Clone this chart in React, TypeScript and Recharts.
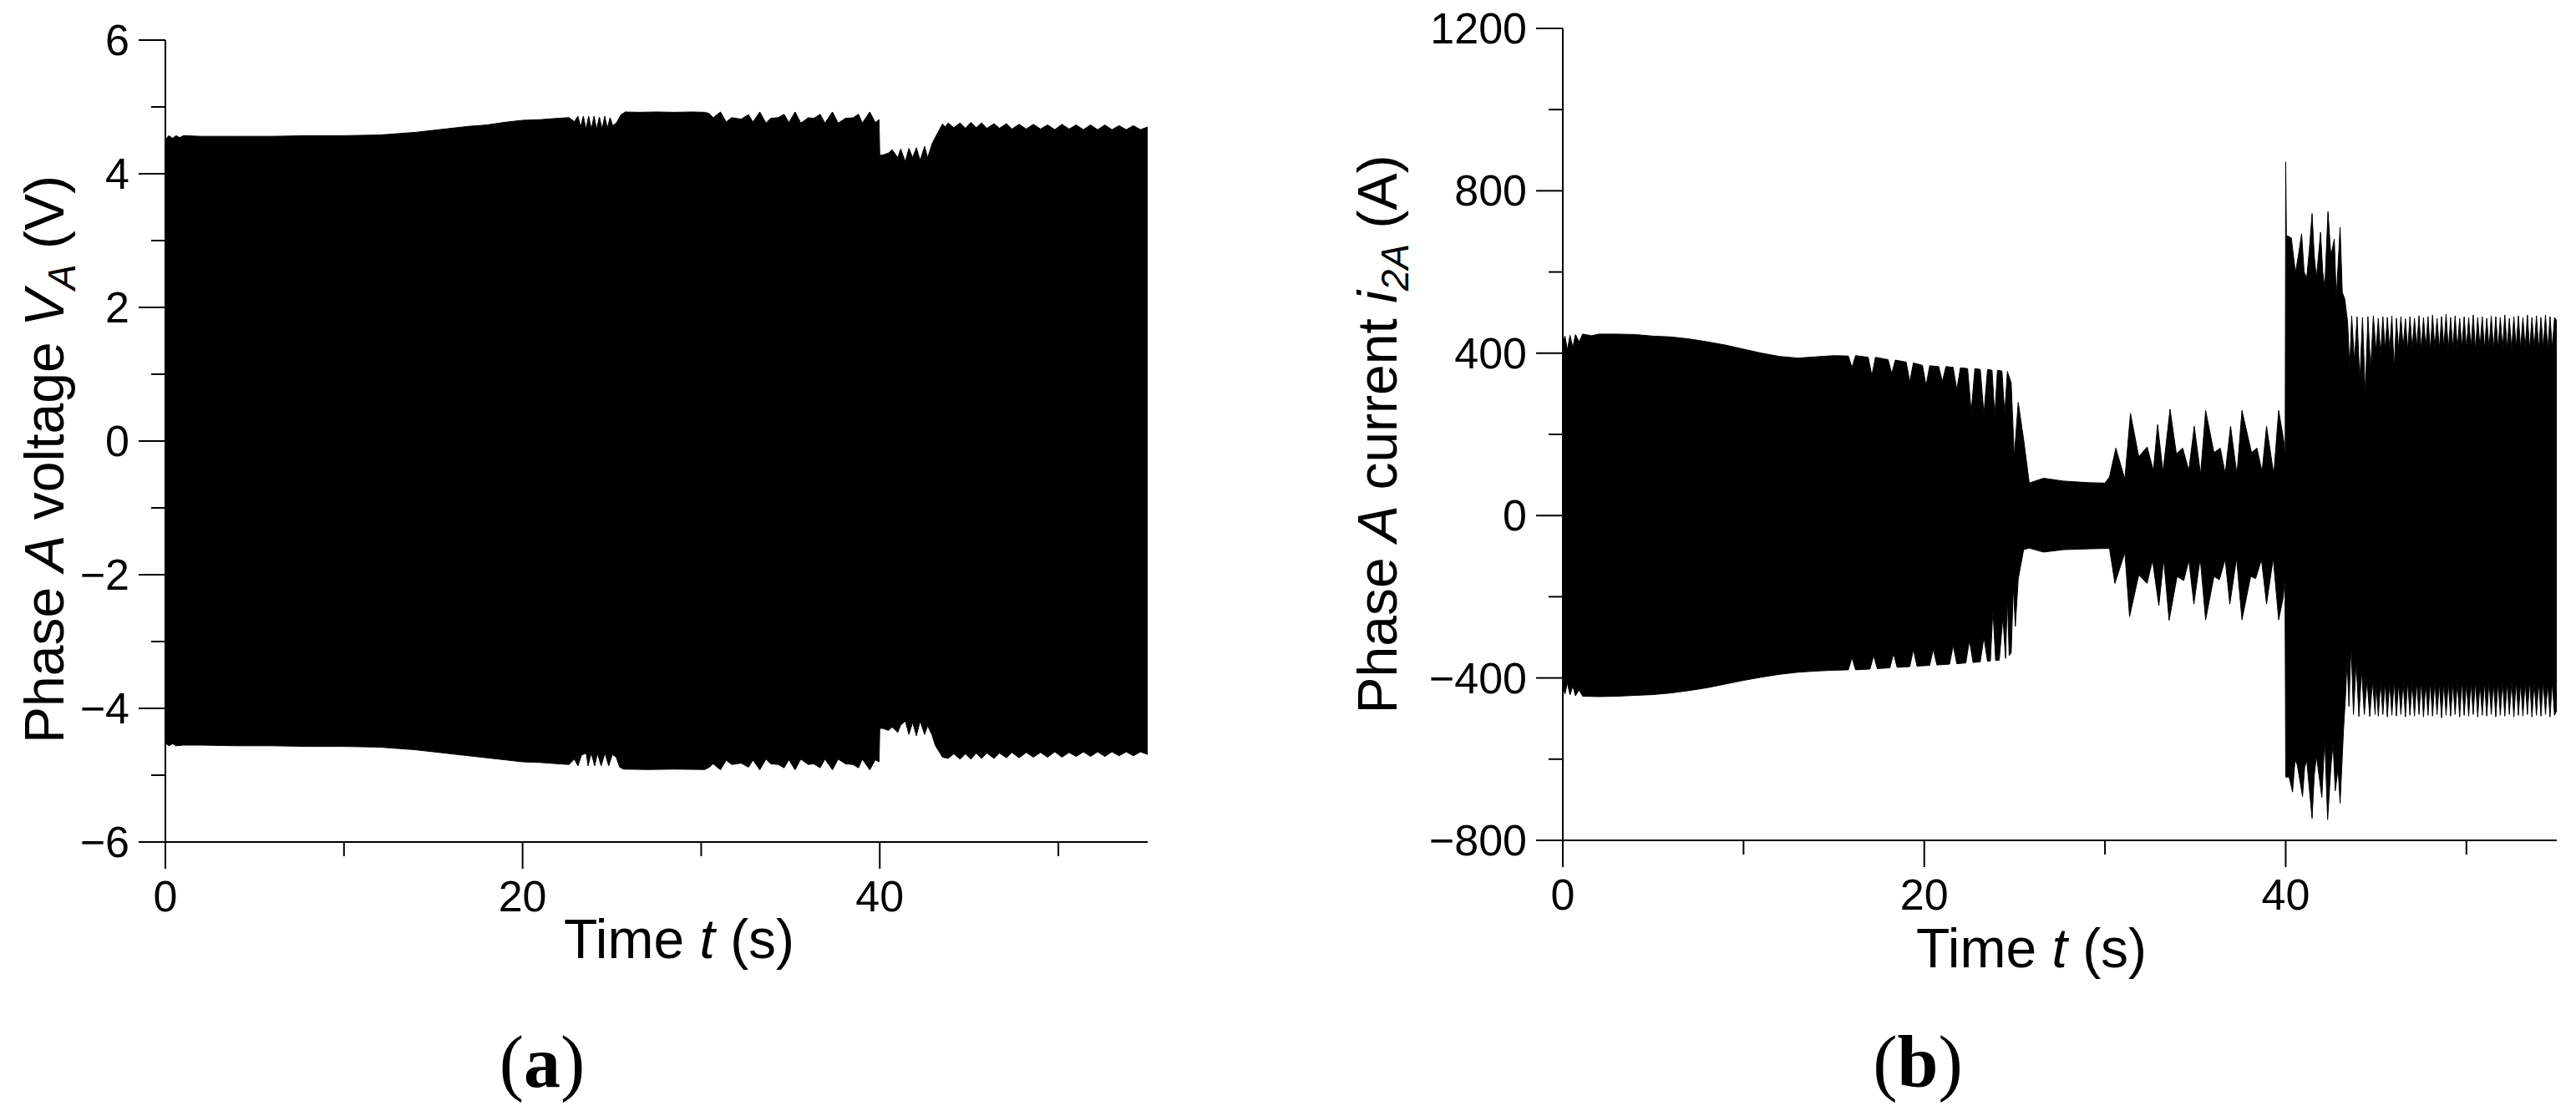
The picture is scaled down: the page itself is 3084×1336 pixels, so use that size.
import { Area, ComposedChart, XAxis, YAxis } from "recharts";

const SANS = "'Liberation Sans', Arial, Helvetica, sans-serif";
const SERIF = "'Liberation Serif', 'Times New Roman', serif";

const timeTicks = [0, 10, 20, 30, 40, 50];
const timeLabels = [0, 20, 40];
const voltageTicks = [-6, -5, -4, -3, -2, -1, 0, 1, 2, 3, 4, 5, 6];
const voltageLabels = [-6, -4, -2, 0, 2, 4, 6];
const currentTicks = [-800, -600, -400, -200, 0, 200, 400, 600, 800, 1000, 1200];
const currentLabels = [-800, -400, 0, 400, 800, 1200];

type Pair = [number, number];

// (a) phase A voltage, upper envelope [t (s), V]
const voltageUpper: Pair[] = [
  [0, 4.52], [0.2, 4.57], [0.4, 4.53], [0.6, 4.57], [0.8, 4.54], [1.0, 4.57], [2, 4.56], [4, 4.56],
  [6, 4.56], [8, 4.57], [10, 4.57], [12, 4.58], [13, 4.6], [14, 4.62], [15, 4.65], [16, 4.68],
  [17, 4.71], [18, 4.73], [19, 4.77], [20, 4.8], [21, 4.81], [22, 4.83], [22.6, 4.84], [22.9, 4.78],
  [23.1, 4.86], [23.25, 4.7], [23.4, 4.86], [23.55, 4.67], [23.7, 4.86], [23.85, 4.67], [24.0, 4.86],
  [24.15, 4.67], [24.3, 4.85], [24.45, 4.67], [24.6, 4.86], [24.75, 4.68], [24.9, 4.84], [25.05, 4.72],
  [25.25, 4.76], [25.5, 4.88], [25.75, 4.925], [26.5, 4.92], [27.5, 4.925], [28.5, 4.92], [29.5, 4.925],
  [30.2, 4.92], [30.46, 4.9], [30.67, 4.837], [31.08, 4.925], [31.4, 4.775], [31.71, 4.84], [32.23, 4.817],
  [32.65, 4.883], [32.9, 4.775], [33.28, 4.925], [33.63, 4.758], [33.9, 4.83], [34.32, 4.84], [34.64, 4.89],
  [34.91, 4.767], [35.26, 4.925], [35.58, 4.758], [35.99, 4.837], [36.31, 4.83], [36.66, 4.89], [36.93, 4.758],
  [37.35, 4.925], [37.67, 4.758], [38.08, 4.83], [38.5, 4.837], [38.81, 4.89], [39.02, 4.758], [39.44, 4.925],
  [39.75, 4.767], [39.96, 4.81], [40.0, 4.275], [40.17, 4.28], [40.49, 4.31], [40.69, 4.36], [41.01, 4.24],
  [41.17, 4.37], [41.43, 4.18], [41.63, 4.38], [41.84, 4.24], [42.05, 4.39], [42.26, 4.2], [42.51, 4.41],
  [42.68, 4.24], [42.93, 4.45], [43.1, 4.54], [43.3, 4.64], [43.51, 4.745], [43.67, 4.7], [43.83, 4.76],
  [44.14, 4.69], [44.5, 4.76], [44.8, 4.68], [45.1, 4.77], [45.4, 4.69], [45.7, 4.76], [46.0, 4.68],
  [46.4, 4.75], [46.7, 4.68], [47.1, 4.75], [47.4, 4.67], [47.8, 4.74], [48.2, 4.67], [48.6, 4.74],
  [49.0, 4.67], [49.4, 4.73], [49.8, 4.66], [50.2, 4.74], [50.6, 4.67], [51.0, 4.73], [51.4, 4.66],
  [51.8, 4.73], [52.2, 4.66], [52.6, 4.73], [53.0, 4.66], [53.4, 4.72], [53.8, 4.66], [54.2, 4.72],
  [54.6, 4.66], [55, 4.7],
];

// (a) phase A voltage, lower envelope
const voltageLower: Pair[] = [
  [0, -4.52], [0.2, -4.56], [0.4, -4.53], [0.6, -4.56], [1, -4.55], [2, -4.55], [4, -4.56], [6, -4.56],
  [8, -4.57], [10, -4.57], [12, -4.58], [13, -4.6], [14, -4.62], [15, -4.65], [16, -4.68], [17, -4.71],
  [18, -4.74], [19, -4.77], [20, -4.8], [21, -4.81], [22, -4.83], [22.6, -4.84], [22.9, -4.76],
  [23.1, -4.86], [23.3, -4.7], [23.56, -4.67], [23.67, -4.86], [23.84, -4.67], [24.04, -4.86],
  [24.19, -4.67], [24.4, -4.86], [24.61, -4.67], [24.82, -4.86], [25.03, -4.69], [25.24, -4.73],
  [25.44, -4.88], [25.65, -4.91], [27, -4.915], [28.5, -4.91], [30.2, -4.915], [30.46, -4.88],
  [30.67, -4.83], [31.08, -4.92], [31.4, -4.775], [31.71, -4.84], [32.23, -4.82], [32.65, -4.88],
  [32.9, -4.775], [33.28, -4.92], [33.63, -4.76], [33.9, -4.83], [34.32, -4.84], [34.64, -4.89],
  [34.91, -4.77], [35.26, -4.92], [35.58, -4.76], [35.99, -4.84], [36.31, -4.83], [36.66, -4.89],
  [36.93, -4.76], [37.35, -4.92], [37.67, -4.76], [38.08, -4.83], [38.5, -4.84], [38.81, -4.89],
  [39.02, -4.76], [39.44, -4.92], [39.75, -4.77], [39.96, -4.8], [40.0, -4.3], [40.17, -4.3],
  [40.49, -4.33], [40.69, -4.28], [41.01, -4.36], [41.17, -4.25], [41.43, -4.19], [41.63, -4.39],
  [41.84, -4.21], [42.05, -4.41], [42.26, -4.19], [42.51, -4.39], [42.68, -4.26], [42.93, -4.4],
  [43.1, -4.55], [43.51, -4.73], [43.83, -4.75], [44.14, -4.68], [44.5, -4.76], [44.8, -4.68],
  [45.1, -4.76], [45.4, -4.67], [45.7, -4.75], [46.0, -4.67], [46.4, -4.75], [46.7, -4.67],
  [47.1, -4.74], [47.4, -4.66], [47.8, -4.74], [48.2, -4.66], [48.6, -4.73], [49.0, -4.66],
  [49.4, -4.73], [49.8, -4.65], [50.2, -4.73], [50.6, -4.66], [51.0, -4.72], [51.4, -4.65],
  [51.8, -4.72], [52.2, -4.65], [52.6, -4.72], [53.0, -4.65], [53.4, -4.71], [53.8, -4.65],
  [54.2, -4.71], [54.6, -4.65], [55, -4.69],
];

// (b) phase A current, upper envelope [t (s), A]
const currentUpper: Pair[] = [
  [0, 425], [0.12, 442], [0.25, 408], [0.4, 444], [0.55, 414], [0.7, 446], [0.9, 428], [1.1, 447],
  [1.6, 443], [2, 447], [3, 447], [4, 446], [5, 442], [6, 440], [7, 435], [8, 428], [9, 420], [10, 410],
  [11, 400], [12, 392], [13, 388], [14, 391], [15, 394], [15.8, 393], [16.0, 365], [16.2, 394],
  [16.9, 390], [17.1, 345], [17.3, 390], [18.0, 384], [18.2, 350], [18.4, 383], [19.0, 378], [19.2, 330],
  [19.4, 376], [19.9, 370], [20.1, 320], [20.3, 369], [20.8, 367], [21.0, 330], [21.2, 367], [21.6, 365],
  [21.8, 310], [22.0, 364], [22.4, 362], [22.6, 255], [22.8, 362], [23.1, 360], [23.3, 250], [23.5, 360],
  [23.75, 358], [23.9, 245], [24.05, 358], [24.3, 356], [24.45, 250], [24.6, 355], [24.81, 327],
  [24.98, 145], [25.2, 279], [25.5, 187], [25.81, 80], [26.6, 92], [27.7, 85], [29.1, 81], [30.0, 80],
  [30.25, 95], [30.6, 166], [31.1, 90], [31.41, 252], [31.87, 145], [32.33, 169], [32.68, 111],
  [32.91, 224], [33.21, 108], [33.6, 262], [33.95, 152], [34.3, 166], [34.64, 111], [34.94, 220],
  [35.29, 101], [35.57, 259], [36.03, 155], [36.38, 166], [36.65, 104], [36.95, 220], [37.3, 101],
  [37.58, 259], [38.11, 155], [38.41, 166], [38.69, 108], [38.94, 220], [39.34, 101], [39.61, 259],
  [39.91, 180], [39.97, 140], [40.0, 871], [40.04, 690], [40.31, 684], [40.54, 598], [40.7, 640],
  [40.88, 694], [41.02, 600], [41.16, 585], [41.3, 650], [41.46, 744], [41.58, 640], [41.7, 585],
  [41.93, 698], [42.05, 600], [42.16, 561], [42.34, 749], [42.5, 640], [42.69, 681], [42.8, 536],
  [43.01, 710], [43.13, 550], [43.27, 533], [43.43, 475], [43.54, 360], [43.65, 492], [43.8, 380],
  [43.95, 490], [44.1, 330], [44.25, 488], [44.4, 300], [44.55, 490], [44.7, 360], [44.85, 492],
  [45.0, 405], [45.125, 486], [45.25, 395], [45.375, 490], [45.5, 410], [45.625, 488], [45.75, 408],
  [45.875, 492], [46.0, 360], [46.125, 486], [46.25, 410], [46.375, 490], [46.5, 412], [46.625, 485],
  [46.75, 408], [46.875, 490], [47.0, 410], [47.125, 486], [47.25, 414], [47.375, 492], [47.5, 408],
  [47.625, 488], [47.75, 412], [47.875, 490], [48.0, 406], [48.125, 494], [48.25, 412], [48.375, 486],
  [48.5, 410], [48.625, 490], [48.75, 414], [48.875, 496], [49.0, 408], [49.125, 488], [49.25, 412],
  [49.375, 492], [49.5, 410], [49.625, 486], [49.75, 414], [49.875, 490], [50.0, 410], [50.125, 488],
  [50.25, 412], [50.375, 494], [50.5, 408], [50.625, 488], [50.75, 414], [50.875, 490], [51.0, 410],
  [51.125, 486], [51.25, 412], [51.375, 492], [51.5, 408], [51.625, 490], [51.75, 412], [51.875, 488],
  [52.0, 410], [52.125, 494], [52.25, 412], [52.375, 486], [52.5, 408], [52.625, 490], [52.75, 414],
  [52.875, 492], [53.0, 410], [53.125, 488], [53.25, 412], [53.375, 494], [53.5, 408], [53.625, 488],
  [53.75, 412], [53.875, 492], [54.0, 410], [54.125, 488], [54.25, 412], [54.375, 494], [54.5, 408],
  [54.625, 490], [54.75, 412], [54.875, 488], [55, 480],
];

// (b) phase A current, lower envelope
const currentLower: Pair[] = [
  [0, -418], [0.12, -440], [0.25, -412], [0.4, -442], [0.55, -420], [0.7, -444], [0.9, -430],
  [1.1, -445], [2, -446], [3, -445], [4, -443], [5, -441], [6, -437], [7, -431], [8, -424], [9, -415],
  [10, -406], [11, -398], [12, -391], [13, -386], [14, -383], [15, -381], [15.8, -380], [16.0, -350],
  [16.2, -380], [17.0, -378], [17.2, -345], [17.4, -377], [18.1, -375], [18.3, -340], [18.5, -374],
  [19.2, -372], [19.4, -330], [19.6, -371], [20.3, -369], [20.5, -330], [20.7, -368], [21.4, -366],
  [21.6, -320], [21.8, -365], [22.3, -363], [22.5, -307], [22.7, -362], [23.1, -360], [23.3, -300],
  [23.5, -359], [23.66, -358], [23.8, -230], [23.95, -357], [24.15, -356], [24.35, -250], [24.5, -352],
  [24.6, -200], [24.7, -345], [24.81, -338], [24.93, -175], [25.04, -273], [25.2, -156], [25.5, -84],
  [25.8, -80], [26.6, -90], [27.7, -84], [29.1, -82], [30.0, -81], [30.25, -81], [30.55, -167],
  [31.1, -91], [31.36, -249], [31.87, -146], [32.33, -167], [32.63, -110], [32.98, -222], [33.25, -108],
  [33.55, -258], [33.99, -150], [34.36, -160], [34.64, -110], [34.92, -218], [35.27, -105],
  [35.57, -257], [36.03, -150], [36.33, -158], [36.65, -108], [36.91, -218], [37.28, -105],
  [37.58, -257], [38.06, -150], [38.34, -155], [38.66, -108], [38.94, -218], [39.31, -105],
  [39.61, -257], [39.87, -200], [39.96, -150], [40.0, -644], [40.19, -644], [40.38, -681], [40.52, -600],
  [40.65, -616], [40.93, -692], [41.05, -620], [41.16, -602], [41.46, -746], [41.58, -640], [41.7, -592],
  [42.0, -694], [42.16, -548], [42.32, -749], [42.5, -620], [42.62, -561], [42.74, -678], [42.9, -623],
  [43.01, -709], [43.2, -527], [43.31, -445], [43.4, -355], [43.5, -470], [43.62, -318], [43.75, -490],
  [43.9, -360], [44.05, -495], [44.2, -380], [44.35, -490], [44.5, -405], [44.65, -495], [44.8, -408],
  [44.95, -490], [45.0, -410], [45.125, -494], [45.25, -408], [45.375, -490], [45.5, -412],
  [45.625, -496], [45.75, -410], [45.875, -492], [46.0, -408], [46.125, -494], [46.25, -412],
  [46.375, -490], [46.5, -410], [46.625, -496], [46.75, -408], [46.875, -492], [47.0, -412],
  [47.125, -494], [47.25, -410], [47.375, -490], [47.5, -408], [47.625, -496], [47.75, -412],
  [47.875, -492], [48.0, -410], [48.125, -494], [48.25, -408], [48.375, -490], [48.5, -412],
  [48.625, -498], [48.75, -410], [48.875, -492], [49.0, -408], [49.125, -494], [49.25, -412],
  [49.375, -490], [49.5, -410], [49.625, -496], [49.75, -408], [49.875, -492], [50.0, -412],
  [50.125, -494], [50.25, -410], [50.375, -490], [50.5, -408], [50.625, -496], [50.75, -412],
  [50.875, -492], [51.0, -410], [51.125, -494], [51.25, -408], [51.375, -490], [51.5, -412],
  [51.625, -496], [51.75, -410], [51.875, -492], [52.0, -408], [52.125, -494], [52.25, -412],
  [52.375, -490], [52.5, -410], [52.625, -496], [52.75, -408], [52.875, -492], [53.0, -412],
  [53.125, -494], [53.25, -410], [53.375, -490], [53.5, -408], [53.625, -496], [53.75, -412],
  [53.875, -492], [54.0, -410], [54.125, -494], [54.25, -408], [54.375, -490], [54.5, -412],
  [54.625, -496], [54.75, -410], [54.875, -492], [55, -480],
];

const rows = (pairs: Pair[]) => pairs.map(([t, v]) => ({ t, v }));
const fmt = (v: number) => (v < 0 ? `\u2212${Math.abs(v)}` : `${v}`);

function yTick(labels: number[]) {
  return (props: any) => {
    const { x, y, payload } = props;
    const major = labels.includes(payload.value);
    const len = major ? 32 : 17;
    return (
      <g>
        <line x1={x - len} y1={y} x2={x} y2={y} stroke="#000" strokeWidth={2} />
        {major && (
          <text x={x - len - 11} y={y + 18} textAnchor="end" fontSize={52} fontFamily={SANS} fill="#000">
            {fmt(payload.value)}
          </text>
        )}
      </g>
    );
  };
}

function xTick(labels: number[]) {
  return (props: any) => {
    const { x, y, payload } = props;
    const major = labels.includes(payload.value);
    const len = major ? 32 : 17;
    return (
      <g>
        <line x1={x} y1={y} x2={x} y2={y + len} stroke="#000" strokeWidth={2} />
        {major && (
          <text x={x} y={y + 83} textAnchor="middle" fontSize={52} fontFamily={SANS} fill="#000">
            {fmt(payload.value)}
          </text>
        )}
      </g>
    );
  };
}

function Panel(props: {
  left: number;
  width: number;
  margin: { top: number; right: number; bottom: number; left: number };
  upper: Pair[];
  lower: Pair[];
  domain: [number, number];
  ticks: number[];
  labels: number[];
  overlap: number;
  yTitle: (cx: number, cy: number) => JSX.Element;
  yTitleDx: number;
  yTitleDy: number;
  xTitleDx: number;
  xTitleDy: number;
}) {
  const p = props;
  return (
    <div style={{ position: "absolute", left: p.left, top: 0 }}>
      <ComposedChart width={p.width} height={1336} margin={p.margin}>
        <XAxis
          type="number"
          dataKey="t"
          domain={[0, 55]}
          ticks={timeTicks}
          interval={0}
          allowDataOverflow
          height={100}
          tickSize={0}
          tickMargin={0}
          tickLine={false}
          axisLine={{ stroke: "#000", strokeWidth: 2 }}
          tick={xTick(timeLabels)}
          label={(lp: any) => {
            const vb = lp.viewBox;
            return (
              <text
                x={vb.x + vb.width / 2 + p.xTitleDx}
                y={vb.y + p.xTitleDy}
                textAnchor="middle"
                fontSize={66}
                fontFamily={SANS}
                fill="#000"
              >
                Time <tspan fontStyle="italic">t</tspan> (s)
              </text>
            );
          }}
        />
        <YAxis
          type="number"
          domain={p.domain}
          ticks={p.ticks}
          interval={0}
          allowDataOverflow
          width={150}
          tickSize={0}
          tickMargin={0}
          tickLine={false}
          axisLine={{ stroke: "#000", strokeWidth: 2 }}
          tick={yTick(p.labels)}
          label={(lp: any) => {
            const vb = lp.viewBox;
            return p.yTitle(vb.x + p.yTitleDx, vb.y + vb.height / 2 + p.yTitleDy);
          }}
        />
        <Area
          data={rows(p.upper)}
          dataKey="v"
          type="linear"
          baseValue={-p.overlap}
          stroke="#000"
          strokeWidth={1}
          fill="#000"
          fillOpacity={1}
          dot={false}
          activeDot={false}
          isAnimationActive={false}
        />
        <Area
          data={rows(p.lower)}
          dataKey="v"
          type="linear"
          baseValue={p.overlap}
          stroke="#000"
          strokeWidth={1}
          fill="#000"
          fillOpacity={1}
          dot={false}
          activeDot={false}
          isAnimationActive={false}
        />
      </ComposedChart>
    </div>
  );
}

const voltageTitle = (cx: number, cy: number) => (
  <text
    transform={`translate(${cx},${cy}) rotate(-90)`}
    textAnchor="middle"
    fontSize={66}
    fontFamily={SANS}
    fill="#000"
  >
    Phase <tspan fontStyle="italic">A</tspan> voltage <tspan fontStyle="italic">V</tspan>
    <tspan fontStyle="italic" fontSize={46} dy={14}>A</tspan>
    <tspan dy={-14}> (V)</tspan>
  </text>
);

const currentTitle = (cx: number, cy: number) => (
  <text
    transform={`translate(${cx},${cy}) rotate(-90)`}
    textAnchor="middle"
    fontSize={66}
    fontFamily={SANS}
    fill="#000"
  >
    Phase <tspan fontStyle="italic">A</tspan> current <tspan fontStyle="italic">i</tspan>
    <tspan fontStyle="italic" fontSize={46} dy={14}>2A</tspan>
    <tspan dy={-14}> (A)</tspan>
  </text>
);

export default function App() {
  return (
    <div style={{ position: "absolute", left: 0, top: 0, width: 3084, height: 1336, background: "#fff" }}>
      <Panel
        left={0}
        width={1540}
        margin={{ top: 48, right: 166, bottom: 228, left: 48 }}
        upper={voltageUpper}
        lower={voltageLower}
        domain={[-6, 6]}
        ticks={voltageTicks}
        labels={voltageLabels}
        overlap={0.2}
        yTitle={voltageTitle}
        yTitleDx={28}
        yTitleDy={22}
        xTitleDx={27}
        xTitleDy={139}
      />
      <Panel
        left={1540}
        width={1544}
        margin={{ top: 34, right: 23, bottom: 230, left: 181 }}
        upper={currentUpper}
        lower={currentLower}
        domain={[-800, 1200]}
        ticks={currentTicks}
        labels={currentLabels}
        overlap={20}
        yTitle={currentTitle}
        yTitleDx={-49}
        yTitleDy={0}
        xTitleDx={-34}
        xTitleDy={152}
      />
      <svg
        width={3084}
        height={1336}
        style={{ position: "absolute", left: 0, top: 0, pointerEvents: "none" }}
      >
        <text x={649} y={1301} textAnchor="middle" fontSize={88} fontFamily={SERIF} fill="#000">
          (<tspan fontWeight="bold">a</tspan>)
        </text>
        <text x={2296} y={1301} textAnchor="middle" fontSize={88} fontFamily={SERIF} fill="#000">
          (<tspan fontWeight="bold">b</tspan>)
        </text>
      </svg>
    </div>
  );
}
